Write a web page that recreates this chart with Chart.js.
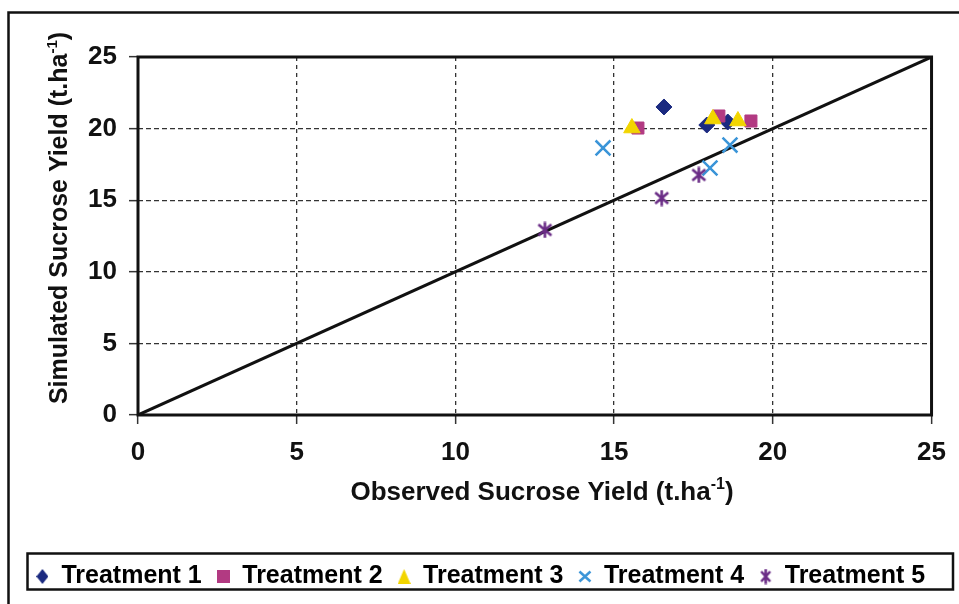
<!DOCTYPE html>
<html>
<head>
<meta charset="utf-8">
<title>Observed vs simulated sucrose yield</title>
<script src="https://cdn.jsdelivr.net/npm/chart.js@4.4.1/dist/chart.umd.min.js"></script>
<style>
  html, body { margin: 0; padding: 0; background: #fff; }
  #wrap { position: relative; width: 959px; height: 604px; }
</style>
</head>
<body>
<div id="wrap"><canvas id="chart" width="959" height="604"></canvas></div>
<script>
// ---- data: observed (x) and simulated (y) sucrose yield, t/ha ----
const seriesNames = ['Treatment 1', 'Treatment 2', 'Treatment 3', 'Treatment 4', 'Treatment 5'];

const t1Observed  = [16.57, 17.92, 18.58];
const t1Simulated = [21.51, 20.25, 20.46];

const t2Observed  = [15.75, 18.30, 19.31];
const t2Simulated = [20.04, 20.88, 20.53];

const t3Observed  = [15.56, 18.11, 18.90];
const t3Simulated = [20.04, 20.67, 20.53];

const t4Observed  = [14.65, 18.65, 18.02];
const t4Simulated = [18.65, 18.85, 17.25];

const t5Observed  = [12.82, 16.50, 17.67];
const t5Simulated = [12.92, 15.15, 16.76];

// 1:1 reference line
const oneToOneX = [0, 25];
const oneToOneY = [0, 25];

// axis ticks
const xTicks = [0, 5, 10, 15, 20, 25];
const yTicks = [0, 5, 10, 15, 20, 25];

const xTitleMain = 'Observed Sucrose Yield (t.ha';
const yTitleMain = 'Simulated Sucrose Yield (t.ha';
const titleSup = '-1';
const titleClose = ')';

// ---- styling ----
const FONT = "'Liberation Sans', Arial, Helvetica, sans-serif";
const colors = ['#1B2A80', '#B23A82', '#F2D500', '#3B95D8', '#6A2C86'];

function pairs(xs, ys) { return xs.map((x, i) => ({ x: x, y: ys[i] })); }

// marker canvases (asterisk marker and legend keys)
function makeMark(kind, color, w, h, lw) {
  const c = document.createElement('canvas');
  c.width = w; c.height = h;
  const g = c.getContext('2d');
  g.fillStyle = color; g.strokeStyle = color; g.lineWidth = lw || 2; g.lineCap = 'butt';
  g.beginPath();
  if (kind === 'diamond') {
    g.moveTo(w / 2, 0); g.lineTo(w, h / 2); g.lineTo(w / 2, h); g.lineTo(0, h / 2); g.closePath(); g.fill();
  } else if (kind === 'square') {
    g.fillRect(0, 0, w, h);
  } else if (kind === 'triangle') {
    g.moveTo(w / 2, 0); g.lineTo(w, h); g.lineTo(0, h); g.closePath(); g.fill();
  } else if (kind === 'x') {
    const p = 1.5;
    g.moveTo(p, p); g.lineTo(w - p, h - p); g.moveTo(w - p, p); g.lineTo(p, h - p); g.stroke();
  } else if (kind === 'star') {
    const p = 2;
    g.moveTo(w / 2, 0.5); g.lineTo(w / 2, h - 0.5);
    g.moveTo(p, p + 1); g.lineTo(w - p, h - p - 1);
    g.moveTo(w - p, p + 1); g.lineTo(p, h - p - 1);
    g.stroke();
  }
  return c;
}

const starPoint = makeMark('star', colors[4], 17, 17, 2.6);
const legendMarks = [
  makeMark('diamond', colors[0], 12, 15),
  makeMark('square', colors[1], 13, 13),
  makeMark('triangle', colors[2], 13, 15),
  makeMark('x', colors[3], 14, 13, 2.5),
  makeMark('star', colors[4], 13, 16, 2.6)
];

// draws "main" + superscript + ")" centred at (cx, baseline)
function drawUnitTitle(ctx, main, sup, close, cx, by, size, angle) {
  ctx.save();
  ctx.translate(cx, by);
  ctx.rotate(angle);
  const big = 'bold ' + size + 'px ' + FONT;
  const small = 'bold ' + Math.round(size * 0.6) + 'px ' + FONT;
  ctx.font = big; const w1 = ctx.measureText(main).width; const w3 = ctx.measureText(close).width;
  ctx.font = small; const w2 = ctx.measureText(sup).width;
  let x = -(w1 + w2 + w3) / 2;
  ctx.fillStyle = '#111';
  ctx.textBaseline = 'alphabetic';
  ctx.textAlign = 'left';
  ctx.font = big; ctx.fillText(main, x, 0); x += w1;
  ctx.font = small; ctx.fillText(sup, x, -size * 0.42); x += w2;
  ctx.font = big; ctx.fillText(close, x, 0);
  ctx.restore();
}

const frames = {
  id: 'frames',
  beforeDatasetsDraw(chart) {
    const { ctx, chartArea: a } = chart;
    ctx.save();
    ctx.strokeStyle = '#111';
    ctx.lineWidth = 3;
    ctx.strokeRect(a.left, a.top, a.right - a.left, a.bottom - a.top);
    ctx.restore();
  },
  afterDraw(chart) {
    const ctx = chart.ctx;
    ctx.save();
    // outer figure frame
    ctx.strokeStyle = '#111';
    ctx.lineWidth = 2.5;
    ctx.beginPath();
    ctx.moveTo(8.5, 604); ctx.lineTo(8.5, 12.5); ctx.lineTo(959, 12.5);
    ctx.stroke();
    // legend frame
    ctx.lineWidth = 2.5;
    ctx.strokeRect(27.5, 553.5, 925.5, 36);
    ctx.restore();
    drawUnitTitle(ctx, xTitleMain, titleSup, titleClose, 542, 500, 26, 0);
    drawUnitTitle(ctx, yTitleMain, titleSup, titleClose, 67, 218, 25, -Math.PI / 2);
  }
};

const gridCommon = {
  color: '#333',
  lineWidth: 1.3,
  tickLength: 9,
  tickColor: '#333',
  tickWidth: 1.5,
  tickBorderDash: [100, 0]
};

new Chart(document.getElementById('chart'), {
  type: 'scatter',
  data: {
    datasets: [
      { label: seriesNames[0], data: pairs(t1Observed, t1Simulated), pointStyle: 'rectRot', pointRadius: 8,
        backgroundColor: colors[0], borderColor: colors[0], borderWidth: 1, order: 5 },
      { label: seriesNames[1], data: pairs(t2Observed, t2Simulated), pointStyle: 'rect', pointRadius: 8.5,
        backgroundColor: colors[1], borderColor: colors[1], borderWidth: 1, order: 4 },
      { label: seriesNames[2], data: pairs(t3Observed, t3Simulated), pointStyle: 'triangle', pointRadius: 9.5,
        backgroundColor: colors[2], borderColor: colors[2], borderWidth: 1, order: 3 },
      { label: seriesNames[3], data: pairs(t4Observed, t4Simulated), pointStyle: 'crossRot', pointRadius: 10.5,
        backgroundColor: colors[3], borderColor: colors[3], borderWidth: 2.5, order: 2 },
      { label: seriesNames[4], data: pairs(t5Observed, t5Simulated), pointStyle: starPoint, pointRadius: 9,
        backgroundColor: colors[4], borderColor: colors[4], borderWidth: 1, order: 1 },
      { label: '1:1', data: pairs(oneToOneX, oneToOneY), showLine: true, pointRadius: 0,
        borderColor: '#111', borderWidth: 3, order: 6 }
    ]
  },
  options: {
    responsive: false,
    animation: false,
    events: [],
    layout: { padding: { left: 2, right: 0, top: 57, bottom: 5 } },
    plugins: {
      tooltip: { enabled: false },
      legend: {
        position: 'bottom',
        labels: {
          usePointStyle: true,
          boxWidth: 13,
          boxHeight: 13,
          padding: 15,
          color: '#111',
          font: { family: FONT, size: 25, weight: 'bold' },
          generateLabels: () => seriesNames.map((name, i) => ({
            text: name, pointStyle: legendMarks[i], fillStyle: colors[i], strokeStyle: colors[i],
            lineWidth: 0, hidden: false, datasetIndex: i
          }))
        }
      }
    },
    scales: {
      x: {
        type: 'linear', position: 'bottom', min: xTicks[0], max: xTicks[xTicks.length - 1],
        afterBuildTicks: s => { s.ticks = xTicks.map(v => ({ value: v })); },
        ticks: { color: '#111', padding: 13, maxRotation: 0, font: { family: FONT, size: 26, weight: 'bold' } },
        grid: Object.assign({}, gridCommon),
        border: { display: false, dash: [4, 4] },
        afterFit: s => { s.height = 134; }
      },
      y: {
        type: 'linear', position: 'left', min: yTicks[0], max: yTicks[yTicks.length - 1],
        afterBuildTicks: s => { s.ticks = yTicks.map(v => ({ value: v })); },
        ticks: { color: '#111', padding: 12, font: { family: FONT, size: 26, weight: 'bold' } },
        grid: Object.assign({}, gridCommon),
        border: { display: false, dash: [5, 3] },
        afterFit: s => { s.width = 136; }
      },
      yRight: {
        type: 'linear', position: 'right', min: 0, max: 25,
        ticks: { display: false },
        grid: { display: false, drawTicks: false },
        border: { display: false },
        afterFit: s => { s.width = 27.3; }
      }
    }
  },
  plugins: [frames]
});
</script>
</body>
</html>
